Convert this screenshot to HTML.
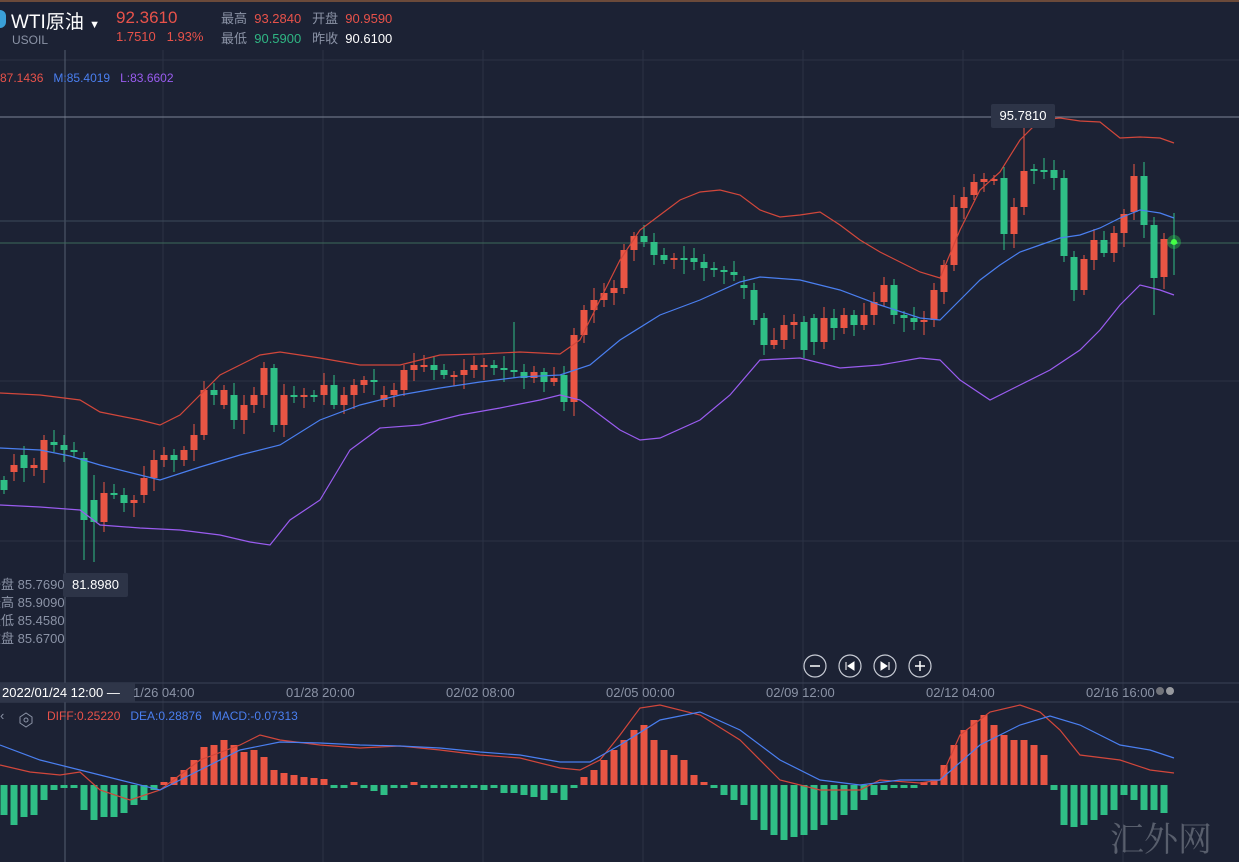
<!DOCTYPE html>
<html><head><meta charset="utf-8"><style>
html,body{margin:0;padding:0;background:#1c2234;width:1239px;height:862px;overflow:hidden;font-family:"Liberation Sans","Noto Sans CJK SC",sans-serif}
.t{position:absolute;white-space:nowrap}
</style></head><body>
<svg id="s" width="1239" height="862" style="position:absolute;left:0;top:0"></svg>
<div class="t" style="left:0;top:10px;width:6px;height:18px;background:#3aa0d8;border-radius:0 9px 9px 0"></div>
<div class="t" style="left:11px;top:7px;font-size:19px;color:#fff">WTI原油 <span style="font-size:11px">▼</span></div>
<div class="t" style="left:12px;top:33px;font-size:12px;color:#8b93a6">USOIL</div>
<div class="t" style="left:116px;top:8px;font-size:17px;color:#e8524a">92.3610</div>
<div class="t" style="left:116px;top:29px;font-size:13px;color:#e8524a">1.7510&nbsp;&nbsp;&nbsp;1.93%</div>
<div class="t" style="left:221px;top:8px;font-size:13px;color:#8b93a6">最高 <span style="color:#e8524a">&nbsp;93.2840</span>&nbsp;&nbsp; 开盘 <span style="color:#e8524a">&nbsp;90.9590</span></div>
<div class="t" style="left:221px;top:28px;font-size:13px;color:#8b93a6">最低 <span style="color:#2fb583">&nbsp;90.5900</span>&nbsp;&nbsp; 昨收 <span style="color:#fff">&nbsp;90.6100</span></div>
<div class="t" style="left:0;top:71px;font-size:12px;color:#e8524a">87.1436 &nbsp; <span style="color:#4a7ff0">M:85.4019</span> &nbsp; <span style="color:#9a5cf0">L:83.6602</span></div>
<div class="t" style="left:991px;top:104px;width:64px;height:24px;background:#2d3447;border-radius:2px;color:#fff;font-size:13px;line-height:24px;text-align:center">95.7810</div>
<div class="t" style="left:63px;top:573px;width:65px;height:24px;background:#2d3447;border-radius:2px;color:#fff;font-size:13px;line-height:24px;text-align:center">81.8980</div>
<div class="t" style="left:-12px;top:576px;font-size:13px;color:#8b93a6;line-height:18px">开盘 85.7690<br>最高 85.9090<br>最低 85.4580<br>收盘 85.6700</div>
<div class="t" style="left:0;top:683px;width:135px;height:19px;background:#2f3649"></div>
<div class="t" style="left:2px;top:685px;font-size:13px;color:#fff">2022/01/24 12:00 —</div>
<div class="t" style="left:133px;top:685px;font-size:13px;color:#8b93a6">1/26 04:00</div>
<div class="t" style="left:286px;top:685px;font-size:13px;color:#8b93a6">01/28 20:00</div>
<div class="t" style="left:446px;top:685px;font-size:13px;color:#8b93a6">02/02 08:00</div>
<div class="t" style="left:606px;top:685px;font-size:13px;color:#8b93a6">02/05 00:00</div>
<div class="t" style="left:766px;top:685px;font-size:13px;color:#8b93a6">02/09 12:00</div>
<div class="t" style="left:926px;top:685px;font-size:13px;color:#8b93a6">02/12 04:00</div>
<div class="t" style="left:1086px;top:685px;font-size:13px;color:#8b93a6">02/16 16:00</div>
<div class="t" style="left:0;top:708px;font-size:13px;color:#8b93a6">‹</div>
<div class="t" style="left:47px;top:709px;font-size:12px;color:#e8524a">DIFF:0.25220 &nbsp; <span style="color:#4a7ff0">DEA:0.28876 &nbsp; MACD:-0.07313</span></div>
<div class="t" style="left:1110px;top:812px;font-size:34px;color:rgba(200,205,215,0.35);font-family:'Noto Serif CJK SC',serif">汇外网</div>
<script>
var s=document.getElementById('s'),h='';
function L(x1,y1,x2,y2,c,w){h+='<line x1="'+x1+'" y1="'+y1+'" x2="'+x2+'" y2="'+y2+'" stroke="'+c+'" stroke-width="'+(w||1)+'"/>';}
function P(pts,c){h+='<polyline fill="none" stroke="'+c+'" stroke-width="1.2" points="'+pts.map(function(p){return p.join(',')}).join(' ')+'"/>';}
h+='<rect x="0" y="0" width="1239" height="2" fill="#6b4a3a"/>';
[60,221,381,541].forEach(function(y){L(0,y,1239,y,'#2b3245');});
[163,323,483,643,803,963,1123].forEach(function(x){L(x,50,x,862,'#2b3245');});
L(65,50,65,862,'#555d70');
L(0,117,1239,117,'#7d8496');
L(0,221,1239,221,'#3d4a5a');
L(0,243,1239,243,'#3c6a5a');
L(0,683,1239,683,'#3a4156');L(0,702,1239,702,'#3a4156');
var c=[490,465,468,465,440,445,450,452,520,522,493,495,503,500,478,460,455,460,450,435,390,395,390,420,405,395,368,425,395,395,395,395,385,405,395,385,380,380,395,390,370,365,365,370,375,375,370,365,365,368,370,372,378,372,382,378,402,335,310,300,293,288,250,236,242,255,260,258,258,262,268,270,272,275,288,320,345,340,325,322,350,342,318,328,315,325,315,302,285,315,318,322,320,290,268,210,197,183,180,179,234,207,172,169,170,178];
var o=[480,472,455,468,470,442,445,450,458,500,522,493,495,503,495,478,460,455,460,450,435,390,405,395,420,405,395,368,425,395,395,395,395,385,405,395,385,380,400,395,390,370,365,365,370,375,375,370,365,365,368,370,372,378,372,382,375,402,335,310,300,293,288,250,236,242,255,260,258,258,262,268,270,272,285,290,318,345,340,325,322,318,342,318,328,315,325,315,302,285,315,318,322,320,292,265,208,197,183,180,179,178,234,207,172,169,170];
c.length=94;o.length=94;
var tail=[[292,265],[265,207],[208,197],[195,182],[182,179],[179,179],[178,234],[234,207],[207,171],[169,169],[170,170],[170,178],[178,256],[257,290],[290,259],[260,240],[240,253],[253,233],[233,214],[212,176],[176,225],[225,278],[277,239],[242,242]];
tail.forEach(function(p){o.push(p[0]);c.push(p[1]);});
var N=c.length;
for(var i=0;i<N;i++){var x=1174-(N-1-i)*10,op=o[i],cl=c[i];
var up=cl<op||(cl==op&&i%3==0);var col=up?'#ea5544':'#2fbf86';if(i==N-1)col='#2fbf86';
var t=Math.min(op,cl),b=Math.max(op,cl);if(b-t<2){b=t+2;}
var hi=t-4-(i*7%9),lo=b+4+(i*5%11);
var k=N-1-i;
if(i==8){lo=560;}if(i==9){lo=562;hi=475}if(i==51){hi=322}
if(k==15)hi=128;if(k==3)hi=162;if(k==2)lo=315;if(k==0){hi=213;lo=275}if(k==17)lo=250;
L(x,hi,x,lo,col);h+='<rect x="'+(x-3.5)+'" y="'+t+'" width="7" height="'+(b-t)+'" fill="'+col+'"/>';}
h+='<circle cx="1174" cy="242" r="7" fill="#2fdf56" opacity="0.35"/><circle cx="1174" cy="242" r="3" fill="#4f4"/>';
P([[0,393],[40,395],[80,400],[100,412],[140,420],[160,425],[180,415],[200,395],[220,375],[240,365],[260,355],[280,352],[320,358],[360,365],[400,365],[440,355],[480,354],[520,352],[560,354],[580,340],[600,300],[620,260],[640,230],[660,215],[680,200],[700,192],[720,190],[740,195],[760,210],[780,217],[800,215],[820,212],[840,225],[860,240],[880,252],[900,262],[920,272],[940,278],[960,230],[980,190],[1000,172],[1020,140],[1040,120],[1060,118],[1080,121],[1100,122],[1120,138],[1140,137],[1160,138],[1174,143]],'#d2473b');
P([[0,448],[40,450],[70,456],[100,465],[140,475],[160,480],[200,467],[240,455],[280,445],[320,420],[360,405],[400,395],[440,388],[480,382],[520,377],[560,375],[590,365],[620,340],[660,315],[700,300],[740,282],[760,277],[800,280],[840,290],[880,305],[920,318],[940,320],[960,300],[980,280],[1000,265],[1020,252],[1040,245],[1060,238],[1080,235],[1100,228],[1120,218],[1140,210],[1160,213],[1174,218]],'#4a7ff0');
P([[0,505],[40,507],[80,510],[100,525],[140,528],[180,530],[220,535],[250,542],[270,545],[290,520],[320,500],[350,450],[380,428],[420,425],[460,415],[500,408],[540,400],[560,395],[580,400],[600,415],[620,430],[640,440],[660,438],[700,420],[730,395],[760,360],[800,358],[840,368],[880,365],[920,358],[940,360],[960,380],[990,400],[1020,385],[1050,370],[1080,350],[1100,330],[1120,305],[1140,285],[1160,290],[1174,295]],'#9a5cf0');
var z=785,m=[-30,-40,-32,-30,-15,-5,-3,-3,-25,-35,-32,-32,-28,-20,-15,-5,3,8,15,25,38,40,45,40,33,35,28,15,12,10,8,7,6,-2,-2,2,-2,-6,-10,-2,-2,2,-2,-3,-3,-3,-3,-3,-5,-3,-8,-8,-10,-12,-15,-8,-15,-3,8,15,25,35,45,55,60,45,35,30,25,10,3,-1,-10,-15,-20,-35,-45,-50,-55,-52,-50,-45,-40,-35,-30,-25,-15,-10,-5,-2,-2,-1,0,5,20,40,55,65,70,60,50,45,45,40,30,-5,-40,-42,-40,-35,-30,-25,-10,-15,-25,-25,-28];
for(var i=0;i<m.length;i++){var x=4+i*10,v=m[i],col=v>=0?'#ea5544':'#2fbf86';var hh=Math.max(Math.abs(v),3);
h+='<rect x="'+(x-3.5)+'" y="'+(v>=0?z-hh:z)+'" width="7" height="'+hh+'" fill="'+col+'"/>';}
P([[0,765],[30,772],[60,775],[80,772],[100,790],[130,800],[160,790],[180,775],[200,760],[240,745],[260,735],[280,740],[320,745],[360,748],[400,746],[440,750],[480,755],[520,758],[560,768],[580,770],[600,760],[620,735],[640,708],[660,705],[700,715],[740,740],[780,780],[820,790],[860,790],[880,780],[920,783],[940,780],[960,735],[990,712],[1020,705],[1040,712],[1060,730],[1080,755],[1120,760],[1150,770],[1174,773]],'#d2473b');
P([[0,745],[40,760],[80,770],[120,780],[160,790],[200,770],[240,750],[280,742],[320,743],[360,745],[400,746],[440,748],[480,752],[520,755],[560,762],[590,762],[620,745],[660,720],[700,712],[740,730],[780,760],[820,780],[860,785],[900,780],[940,780],[980,745],[1020,725],[1050,716],[1080,725],[1120,745],[1150,750],[1174,758]],'#4a7ff0');
[815,850,885,920].forEach(function(x,i){h+='<circle cx="'+x+'" cy="666" r="11" fill="none" stroke="#c7cbd4" stroke-width="1.2"/>';});
L(810,666,820,666,'#fff',1.5);L(915,666,925,666,'#fff',1.5);L(920,661,920,671,'#fff',1.5);
h+='<path d="M846 662v8M854 662l-6 4 6 4z" stroke="#fff" fill="#fff"/><path d="M889 662v8M881 662l6 4-6 4z" stroke="#fff" fill="#fff"/>';
h+='<circle cx="1160" cy="691" r="4" fill="#aaa" opacity=".6"/><circle cx="1170" cy="691" r="4" fill="#ccc" opacity=".7"/>';
h+='<polygon points="20,717 26,713 32,717 32,723 26,727 20,723" fill="none" stroke="#8b93a6"/><circle cx="26" cy="720" r="2" fill="none" stroke="#8b93a6"/>';
s.innerHTML=h;
</script>
</body></html>
